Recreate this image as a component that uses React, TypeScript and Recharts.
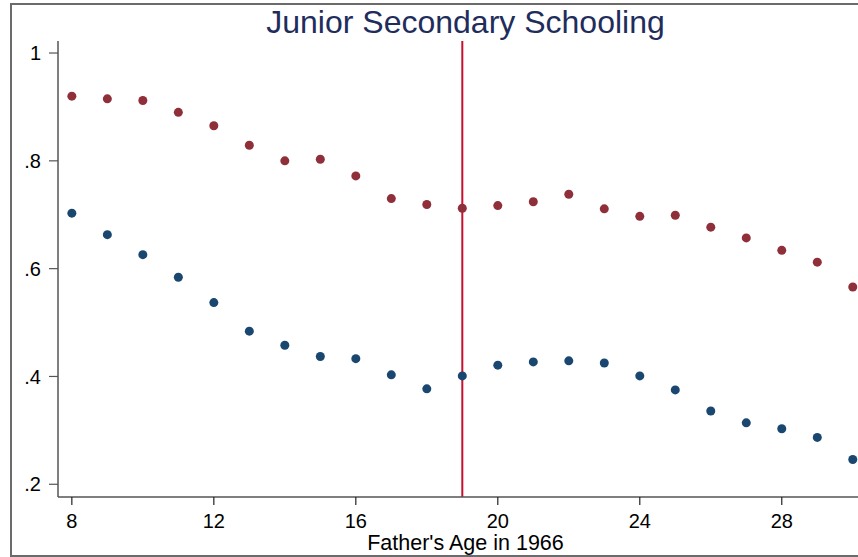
import React from 'react';
import { ScatterChart, Scatter, XAxis, YAxis, ReferenceLine } from 'recharts';

// father's age in 1966
const ages = [8, 9, 10, 11, 12, 13, 14, 15, 16, 17, 18, 19, 20, 21, 22, 23, 24, 25, 26, 27, 28, 29, 30];

// upper (maroon) series
const upperShare = [
  0.92, 0.915, 0.912, 0.89, 0.865, 0.829, 0.8, 0.803, 0.772, 0.73, 0.719, 0.712,
  0.717, 0.724, 0.738, 0.711, 0.697, 0.699, 0.677, 0.657, 0.634, 0.612, 0.566,
];

// lower (navy) series
const lowerShare = [
  0.703, 0.663, 0.626, 0.584, 0.537, 0.484, 0.458, 0.437, 0.433, 0.403, 0.377, 0.401,
  0.421, 0.427, 0.429, 0.425, 0.401, 0.375, 0.336, 0.314, 0.303, 0.287, 0.246,
];

const xTicks = [8, 12, 16, 20, 24, 28];
const yTicks = [0.2, 0.4, 0.6, 0.8, 1];
const cutoffAge = 19;

const FONT = '"Liberation Sans", Arial, Helvetica, sans-serif';

const upperData = ages.map((age, i) => ({ age, share: upperShare[i] }));
const lowerData = ages.map((age, i) => ({ age, share: lowerShare[i] }));

const dot = (color: string) => (props: any) => (
  <circle cx={props.cx} cy={props.cy} r={4.5} fill={color} />
);

const fmtY = (v: number) => (v === 1 ? '1' : String(v).replace(/^0/, ''));

const App: React.FC = () => {
  return (
    <div
      style={{
        position: 'absolute',
        left: 0,
        top: 0,
        width: 858,
        height: 557,
        overflow: 'hidden',
        background: '#fff',
        fontFamily: FONT,
      }}
    >
      {/* outer graph frame */}
      <div
        style={{
          position: 'absolute',
          left: 10,
          top: 3,
          width: 920,
          height: 554,
          border: '2px solid #6b6b6b',
          boxSizing: 'border-box',
        }}
      />
      <div
        style={{
          position: 'absolute',
          left: 58,
          top: 6,
          width: 815,
          textAlign: 'center',
          fontSize: 32,
          lineHeight: '32px',
          color: '#1f2d5c',
          whiteSpace: 'nowrap',
        }}
      >
        Junior Secondary Schooling
      </div>
      <div style={{ position: 'absolute', left: 0, top: 0 }}>
        <ScatterChart
          width={900}
          height={557}
          margin={{ top: 41, right: 27, bottom: 0, left: 0 }}
        >
          <XAxis
            type="number"
            dataKey="age"
            domain={[7.61, 30.57]}
            ticks={xTicks}
            allowDataOverflow
            height={60}
            tickSize={8}
            tickMargin={9}
            axisLine={{ stroke: '#555', strokeWidth: 1.5 }}
            tickLine={{ stroke: '#222', strokeWidth: 1.2 }}
            tick={{ fill: '#000', fontSize: 20, fontFamily: FONT }}
            label={{
              value: "Father's Age in 1966",
              position: 'insideBottom',
              offset: 7,
              fill: '#000',
              fontSize: 21.5,
              fontFamily: FONT,
            }}
          />
          <YAxis
            type="number"
            dataKey="share"
            domain={[0.1764, 1.0223]}
            ticks={yTicks}
            allowDataOverflow
            width={58}
            tickSize={9}
            tickMargin={8}
            tickFormatter={fmtY}
            axisLine={{ stroke: '#555', strokeWidth: 1.5 }}
            tickLine={{ stroke: '#555', strokeWidth: 1.2 }}
            tick={{ fill: '#000', fontSize: 20, fontFamily: FONT }}
          />
          <ReferenceLine x={cutoffAge} stroke="#c8102e" strokeWidth={2} />
          <Scatter data={upperData} shape={dot('#8f2f3a')} isAnimationActive={false} />
          <Scatter data={lowerData} shape={dot('#1a476f')} isAnimationActive={false} />
        </ScatterChart>
      </div>
    </div>
  );
};

export default App;
